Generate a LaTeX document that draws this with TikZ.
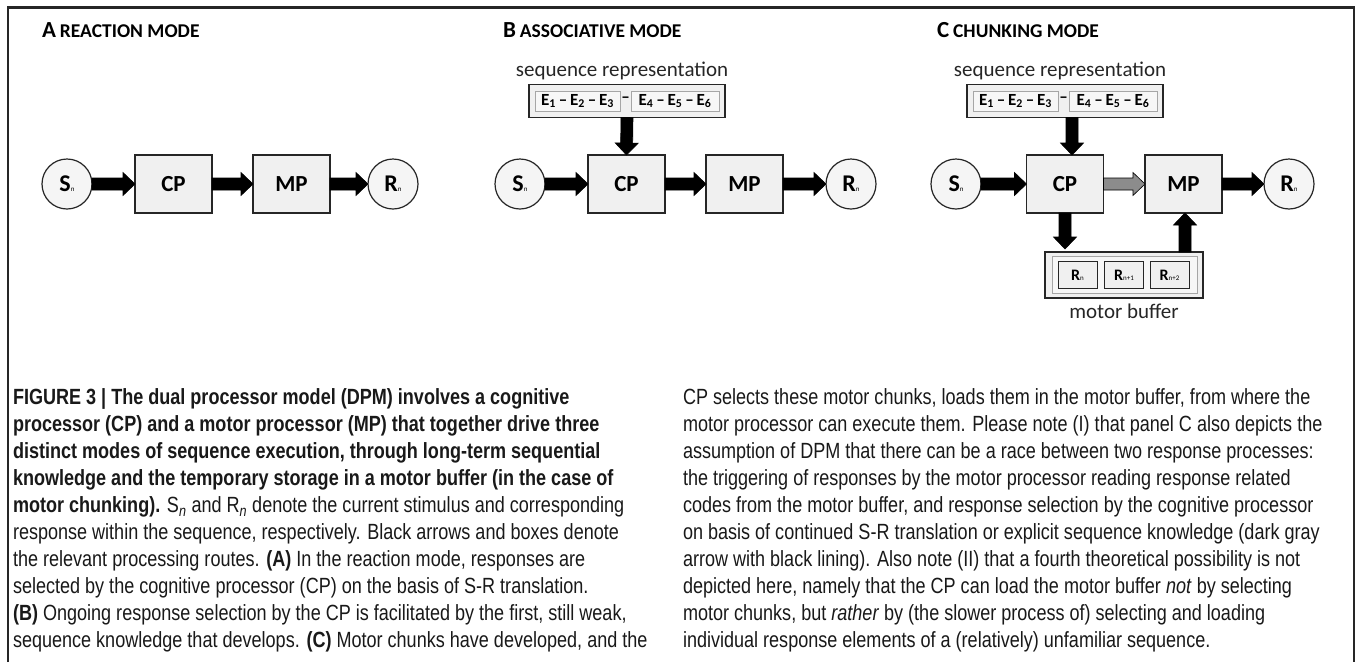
\documentclass[tikz,border=0pt]{standalone}
\usepackage{fontspec}
\setmainfont{Liberation Sans}
\newfontfamily\capfont{Liberation Sans}[FakeStretch=0.82]
\newfontfamily\diafont{Carlito}
\usetikzlibrary{calc}
\newcommand\tinysub[1]{{\fontsize{7}{7}\selectfont\mdseries #1}}
\newcommand\blockarrow[3][black]{%
  \coordinate (ba-t) at (#2);
  \coordinate (ba-e) at (#3);
  \coordinate (ba-h) at ($(ba-e)!12pt!(ba-t)$);
  \draw[fill=#1, draw=black, line width=0.6pt, line join=miter]
    ($(ba-t)!6pt!90:(ba-e)$) -- ($(ba-h)!6pt!90:(ba-e)$) -- ($(ba-h)!11.5pt!90:(ba-e)$)
    -- (ba-e) -- ($(ba-h)!11.5pt!-90:(ba-e)$) -- ($(ba-h)!6pt!-90:(ba-e)$)
    -- ($(ba-t)!6pt!-90:(ba-e)$) -- cycle;}
\begin{document}
\begin{tikzpicture}[x=1pt,y=-1pt,
  every node/.style={inner sep=0pt, outer sep=0pt},
  proc/.style={draw=black!85, line width=1.3pt, fill=black!6, minimum width=77pt, minimum height=58pt, font=\diafont\bfseries\fontsize{23}{23}\selectfont},
  stim/.style={circle, draw=black!85, line width=1.2pt, fill=black!4, minimum size=50pt, font=\diafont\bfseries\fontsize{24}{24}\selectfont},
  ptitle/.style={anchor=base west, font=\diafont\bfseries},
  seqlabel/.style={anchor=base, font=\diafont\fontsize{21}{21}\selectfont, text=black!85},
  seqbox/.style={draw=black!85, line width=1.3pt, fill=black!6, minimum width=196pt, minimum height=33pt},
  chunk/.style={draw=black!35, line width=0.9pt, fill=black!3, minimum height=20pt, font=\diafont\bfseries\fontsize{17}{17}\selectfont},
  bufbox/.style={draw=black!85, line width=1.3pt, fill=black!6, minimum width=158pt, minimum height=46pt},
  bufinner/.style={draw=black!35, line width=1pt, fill=black!3, minimum width=145pt, minimum height=37pt},
  rbox/.style={draw=black!85, line width=1pt, fill=black!6, minimum width=39pt, minimum height=27pt, font=\diafont\bfseries\fontsize{16}{16}\selectfont},
  caption/.style={anchor=north west, align=left, font=\capfont\fontsize{22}{27}\selectfont, text=black!90},
  frame/.style={draw=black!85, line width=2.3pt}
]
\useasboundingbox (0,0) rectangle (1355,662);
\fill[white] (0,0) rectangle (1355,662);
\draw[frame] (8,662) -- (8,7.5) -- (1354,7.5) -- (1354,662);

% ---------- Panel A ----------
\node[ptitle] (tA) at (42,37) {{\fontsize{23}{23}\selectfont A}\hspace{4pt}{\fontsize{19.5}{19.5}\selectfont REACTION MODE}};
\node[stim] (sA) at (67,184) {S\tinysub{n}};
\node[proc] (cpA) at (173.5,184) {CP};
\node[proc] (mpA) at (291.5,184) {MP};
\node[stim] (rA) at (393,184) {R\tinysub{n}};
\blockarrow{sA.east}{cpA.west}
\blockarrow{cpA.east}{mpA.west}
\blockarrow{mpA.east}{rA.west}

% ---------- Panel B ----------
\node[ptitle] (tB) at (503,37) {{\fontsize{23}{23}\selectfont B}\hspace{4pt}{\fontsize{19.5}{19.5}\selectfont ASSOCIATIVE MODE}};
\node[seqlabel] (lB) at (622,76) {sequence representation};
\node[seqbox] (seqB) at (627,101) {};
\node[chunk, minimum width=85pt] (c1B) at (577.5,101) {E\textsubscript{1}\,–\,E\textsubscript{2}\,–\,E\textsubscript{3}};
\node[chunk, minimum width=88pt] (c2B) at (675,101) {E\textsubscript{4}\,–\,E\textsubscript{5}\,–\,E\textsubscript{6}};
\node[font=\diafont\bfseries\fontsize{17}{17}\selectfont] (dB) at (625.5,100) {–};
\node[stim] (sB) at (520,184) {S\tinysub{n}};
\node[proc] (cpB) at (626.5,184) {CP};
\node[proc] (mpB) at (744.5,184) {MP};
\node[stim] (rB) at (851,184) {R\tinysub{n}};
\blockarrow{seqB.south}{cpB.north}
\blockarrow{sB.east}{cpB.west}
\blockarrow{cpB.east}{mpB.west}
\blockarrow{mpB.east}{rB.west}

% ---------- Panel C ----------
\node[ptitle] (tC) at (937,37) {{\fontsize{23}{23}\selectfont C}\hspace{4pt}{\fontsize{19.5}{19.5}\selectfont CHUNKING MODE}};
\node[seqlabel] (lC) at (1060,76) {sequence representation};
\node[seqbox] (seqC) at (1065,101) {};
\node[chunk, minimum width=85pt] (c1C) at (1015.5,101) {E\textsubscript{1}\,–\,E\textsubscript{2}\,–\,E\textsubscript{3}};
\node[chunk, minimum width=88pt] (c2C) at (1113,101) {E\textsubscript{4}\,–\,E\textsubscript{5}\,–\,E\textsubscript{6}};
\node[font=\diafont\bfseries\fontsize{17}{17}\selectfont] (dC) at (1063.5,100) {–};
\node[stim] (sC) at (956,184) {S\tinysub{n}};
\node[proc] (cpC) at (1065,184) {CP};
\node[proc] (mpC) at (1183.5,184) {MP};
\node[stim] (rC) at (1289,184) {R\tinysub{n}};
\node[bufbox] (bufC) at (1124,275) {};
\node[bufinner] (binC) at (1124.5,275) {};
\node[rbox] (r1C) at (1077.5,275) {R\tinysub{n}};
\node[rbox] (r2C) at (1124,275) {R\tinysub{n+1}};
\node[rbox] (r3C) at (1169.5,275) {R\tinysub{n+2}};
\node[anchor=base, font=\diafont\fontsize{21}{21}\selectfont, text=black!85] (mbC) at (1124,318) {motor buffer};
\coordinate (seqoutC) at (seqC.south -| 1072,0);
\blockarrow{seqoutC}{seqoutC |- cpC.north}
\blockarrow{sC.east}{cpC.west}
\blockarrow[black!45]{cpC.east}{mpC.west}
\blockarrow{mpC.east}{rC.west}
\coordinate (cpoutC) at (cpC.south);
\coordinate (bufinC) at ($(cpoutC |- bufC.north)+(0,-3)$);
\blockarrow{cpoutC}{bufinC}
\coordinate (bufoutC) at (bufC.north -| 1185,0);
\blockarrow{bufoutC}{bufoutC |- mpC.south}

% ---------- Caption ----------
\node[caption] (capL) at (13,389) {%
\textbf{FIGURE 3 | The dual processor model (DPM) involves a cognitive}\\
\textbf{processor (CP) and a motor processor (MP) that together drive three}\\
\textbf{distinct modes of sequence execution, through long-term sequential}\\
\textbf{knowledge and the temporary storage in a motor buffer (in the case of}\\
\textbf{motor chunking).} S\textsubscript{\textit{n}} and R\textsubscript{\textit{n}} denote the current stimulus and corresponding\\
response within the sequence, respectively. Black arrows and boxes denote\\
the relevant processing routes. \textbf{(A)} In the reaction mode, responses are\\
selected by the cognitive processor (CP) on the basis of S-R translation.\\
\textbf{(B)} Ongoing response selection by the CP is facilitated by the first, still weak,\\
sequence knowledge that develops. \textbf{(C)} Motor chunks have developed, and the};
\node[caption] (capR) at (683,389) {%
CP selects these motor chunks, loads them in the motor buffer, from where the\\
motor processor can execute them. Please note (I) that panel C also depicts the\\
assumption of DPM that there can be a race between two response processes:\\
the triggering of responses by the motor processor reading response related\\
codes from the motor buffer, and response selection by the cognitive processor\\
on basis of continued S-R translation or explicit sequence knowledge (dark gray\\
arrow with black lining). Also note (II) that a fourth theoretical possibility is not\\
depicted here, namely that the CP can load the motor buffer \textit{not} by selecting\\
motor chunks, but \textit{rather} by (the slower process of) selecting and loading\\
individual response elements of a (relatively) unfamiliar sequence.};
\end{tikzpicture}
\end{document}
